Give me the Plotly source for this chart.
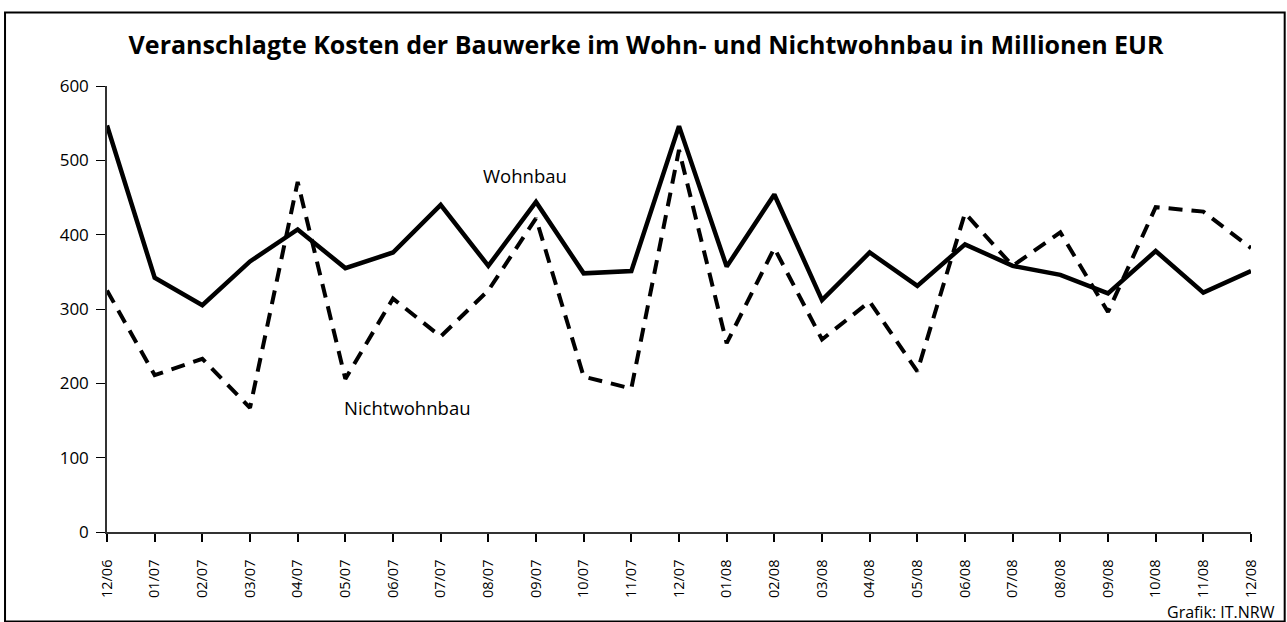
import plotly.graph_objects as go

months = ["12/06", "01/07", "02/07", "03/07", "04/07", "05/07", "06/07", "07/07",
          "08/07", "09/07", "10/07", "11/07", "12/07", "01/08", "02/08", "03/08",
          "04/08", "05/08", "06/08", "07/08", "08/08", "09/08", "10/08", "11/08", "12/08"]

wohnbau = [547, 342, 305, 364, 407, 355, 376, 440, 358, 444, 348, 351, 546,
           357, 454, 312, 376, 331, 387, 358, 346, 321, 378, 322, 351]

nichtwohnbau = [325, 211, 233, 167, 471, 206, 314, 263, 325, 422, 209, 193, 514,
                254, 382, 259, 310, 216, 429, 358, 403, 296, 437, 431, 382]

y_ticks = [0, 100, 200, 300, 400, 500, 600]

FONT = "Open Sans"

fig = go.Figure()
fig.add_trace(go.Scatter(x=months, y=nichtwohnbau, mode="lines", name="Nichtwohnbau",
                         line=dict(color="black", width=4, dash="14px,9px"),
                         cliponaxis=False))
fig.add_trace(go.Scatter(x=months, y=wohnbau, mode="lines", name="Wohnbau",
                         line=dict(color="black", width=4.5),
                         cliponaxis=False))

fig.update_layout(
    width=1287, height=622,
    margin=dict(l=107, r=36, t=86, b=90),
    paper_bgcolor="white", plot_bgcolor="white",
    showlegend=False,
    font=dict(family=FONT, color="black"),
    title=dict(text="<b>Veranschlagte Kosten der Bauwerke im Wohn- und Nichtwohnbau in Millionen EUR</b>",
               font=dict(family=FONT, size=25, color="black"),
               x=0.502, xanchor="center", xref="container",
               y=1 - 45 / 622, yanchor="middle", yref="container"),
    xaxis=dict(type="category", range=[0, 24], showgrid=False, zeroline=False,
               showline=True, linecolor="#333", linewidth=1.5,
               ticks="outside", ticklen=8, tickwidth=2, tickcolor="black",
               ticklabelstandoff=12,
               tickangle=-90, tickfont=dict(size=14.5, family=FONT),
               tickvals=months, ticktext=months),
    yaxis=dict(range=[0, 600], showgrid=False, zeroline=False,
               showline=True, linecolor="#333", linewidth=1.5,
               ticks="outside", ticklen=9, tickwidth=1, tickcolor="black",
               ticklabelstandoff=4,
               tickvals=y_ticks, tickfont=dict(size=17, family=FONT)),
)

fig.add_annotation(text="Wohnbau", x=8.77, y=479, xref="x", yref="y",
                   showarrow=False, font=dict(size=18.5, family=FONT))
fig.add_annotation(text="Nichtwohnbau", x=6.31, y=167, xref="x", yref="y",
                   showarrow=False, font=dict(size=18.5, family=FONT))
fig.add_annotation(text="Grafik: IT.NRW", x=(1277 - 107) / 1144.3, y=(532.3 - 612) / 446.6,
                   xref="paper", yref="paper", xanchor="right", yanchor="middle",
                   showarrow=False, font=dict(size=16, family=FONT))

fig.add_shape(type="rect", xref="paper", yref="paper",
              x0=(5 - 107) / 1144.3, x1=(1285 - 107) / 1144.3,
              y0=(532.3 - 622) / 446.6, y1=(532.3 - 12) / 446.6,
              line=dict(color="black", width=2), fillcolor="rgba(0,0,0,0)")

fig.write_html("out.html", config={"displayModeBar": False},
               post_script="document.body.style.margin='0';document.body.style.overflow='hidden';")
